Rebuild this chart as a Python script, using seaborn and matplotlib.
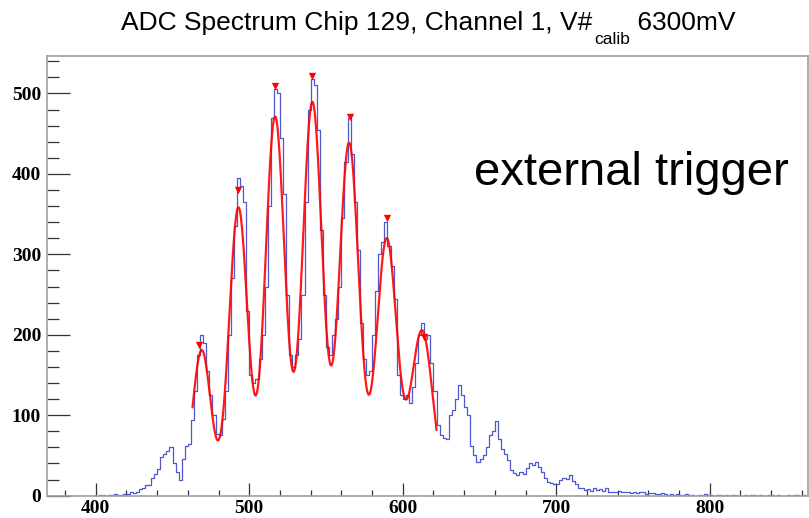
import numpy as np
import pandas as pd
import matplotlib
matplotlib.use("Agg")
import matplotlib.pyplot as plt
import seaborn as sns

sns.set_style("white")
plt.rcParams["font.family"] = ["Liberation Sans", "DejaVu Sans"]
plt.rcParams["text.color"] = "black"

# ---------------- data ----------------
bin_start = 368
bin_width = 2
counts = [
    # 368 - 402
    0, 0, 0, 0, 0, 0, 0, 0, 0, 0, 0, 0, 0, 0, 0, 0, 0, 1,
    # 404 - 418
    1, 0, 1, 1, 2, 1, 1, 2,
    # 420 - 428
    2, 4, 3, 5, 8,
    # 430 - 448
    9, 13, 13, 22, 27, 33, 48, 52, 55, 60,
    # 450 - 468
    40, 30, 20, 46, 62, 64, 94, 130, 175, 200,
    # 470 - 488
    190, 155, 125, 100, 77, 75, 95, 130, 200, 270,
    # 490 - 508
    335, 395, 385, 365, 230, 150, 140, 145, 170, 200,
    # 510 - 528
    260, 360, 470, 505, 500, 445, 375, 250, 175, 160,
    # 530 - 548
    175, 195, 250, 365, 480, 518, 510, 455, 330, 250,
    # 550 - 568
    185, 175, 200, 220, 260, 345, 415, 470, 425, 365,
    # 570 - 588
    305, 215, 170, 150, 155, 200, 255, 300, 315, 340,
    # 590 - 608
    310, 285, 245, 150, 125, 120, 125, 115, 135, 165,
    # 610 - 628
    200, 215, 195, 200, 165, 130, 88, 75, 72, 70,
    # 630 - 648
    100, 106, 120, 138, 125, 110, 100, 62, 50, 42,
    # 650 - 668
    45, 50, 60, 75, 80, 93, 70, 58, 52, 44,
    # 670 - 688
    32, 28, 26, 30, 27, 35, 40, 38, 42, 36,
    # 690 - 708
    30, 22, 17, 16, 15, 14, 20, 22, 21, 26,
    # 710 - 728
    18, 14, 10, 9, 7, 8, 6, 9, 7, 8,
    # 730 - 748
    6, 9, 5, 5, 4, 6, 5, 4, 4, 3,
    # 750 - 768
    4, 3, 5, 4, 2, 3, 3, 2, 2, 3,
    # 770 - 788
    2, 1, 2, 1, 2, 1, 1, 2, 1, 1,
    # 790 - 808
    0, 1, 1, 2, 1, 1, 0, 1, 1, 0,
    # 810 - 828
    1, 0, 1, 1, 0, 0, 1, 0, 1, 1,
    # 830 - 848
    0, 1, 0, 0, 1, 1, 0, 1, 0, 0,
    # 850 - 862
    1, 0, 1, 1, 0, 1, 0,
]

# peaks found (red triangles)
peak_x = [467.5, 492.5, 516.8, 541.1, 565.6, 590.0, 614.1]
peak_y = [187, 380, 509, 522, 471, 345, 197]

# multi-gaussian fit parameters (red curve)
fit_means = [469.0, 492.9, 516.8, 541.1, 565.0, 589.5, 612.5]
fit_amps = [181, 358, 471, 489, 438, 319, 205]
fit_sigmas = [6.0, 6.0, 6.3, 6.4, 6.4, 6.6, 7.0]
fit_range = [463.0, 622.0]

x_ticks = [400, 500, 600, 700, 800]
x_tick_labels = ["400", "500", "600", "700", "800"]
y_ticks = [0, 100, 200, 300, 400, 500]
y_tick_labels = ["0", "100", "200", "300", "400", "500"]

title_parts = ["ADC Spectrum Chip 129, Channel 1, V#", "calib", " 6300mV"]
annotation = "external trigger"

# ---------------- plot ----------------
n_bins = len(counts)
centers = bin_start + bin_width * np.arange(n_bins) + bin_width / 2.0
df = pd.DataFrame({"adc": centers, "n": np.asarray(counts, dtype=float)})

W, H = 809, 518
fig = plt.figure(figsize=(W / 100, H / 100), dpi=100)
ax = fig.add_axes([0.0577, 0.0431, 0.9411, 0.8494])

sns.histplot(data=df, x="adc", weights="n", binwidth=bin_width,
             binrange=(bin_start, bin_start + bin_width * n_bins),
             element="step", fill=False, color="#3c46c8", linewidth=0.9,
             alpha=0.9, ax=ax)

xs = np.linspace(fit_range[0], fit_range[1], 800)
ys = np.zeros_like(xs)
for m, a, s in zip(fit_means, fit_amps, fit_sigmas):
    ys += a * np.exp(-0.5 * ((xs - m) / s) ** 2)
fit_df = pd.DataFrame({"adc": xs, "fit": ys})
sns.lineplot(data=fit_df, x="adc", y="fit", color="#ff0000", linewidth=1.6,
             ax=ax, alpha=0.9)

ax.scatter(peak_x, peak_y, marker="v", s=28, color="#ff0000", zorder=5,
           linewidths=0)

ax.set_xlim(368, 864)
ax.set_ylim(0, 547)
ax.set_xlabel("")
ax.set_ylabel("")

ax.set_xticks(x_ticks)
ax.set_xticklabels(x_tick_labels, fontfamily="Liberation Serif",
                   fontweight="bold", fontsize=14, color="black")
ax.set_yticks(y_ticks)
ax.set_yticklabels(y_tick_labels, fontfamily="Liberation Serif",
                   fontweight="bold", fontsize=14, color="black")
ax.xaxis.set_minor_locator(matplotlib.ticker.MultipleLocator(20))
ax.yaxis.set_minor_locator(matplotlib.ticker.MultipleLocator(20))

ax.tick_params(axis="x", which="major", direction="in", length=9.5, width=0.9,
               color="#333333", pad=3, bottom=True, top=False)
ax.tick_params(axis="x", which="minor", direction="in", length=4.5, width=0.9,
               color="#333333", bottom=True, top=False)
ax.tick_params(axis="y", which="major", direction="in", length=16.5, width=0.9,
               color="#333333", pad=4, left=True, right=False)
ax.tick_params(axis="y", which="minor", direction="in", length=8.5, width=0.9,
               color="#333333", left=True, right=False)

for sp in ax.spines.values():
    sp.set_color("#a0a0a0")
    sp.set_linewidth(1.2)
    sp.set_visible(True)
ax.grid(False)

# title assembled from pieces (main text, subscript, rest)
title_left_px = 121
title_base_px = 30
sub_drop_px = 14
main_size = 19
sub_size = 12.5
renderer = fig.canvas.get_renderer()
x_px = title_left_px
for i, part in enumerate(title_parts):
    is_sub = (i == 1)
    y_px = title_base_px + (sub_drop_px if is_sub else 0)
    t = fig.text(x_px / W, 1 - y_px / H, part, ha="left", va="baseline",
                 fontsize=sub_size if is_sub else main_size, color="black")
    bb = t.get_window_extent(renderer=renderer)
    x_px += bb.width + (2 if i == 0 else 0)

fig.text(0.586, 0.643, annotation, ha="left", va="baseline", fontsize=34,
         color="black")

fig.savefig("out.png", dpi=100)
